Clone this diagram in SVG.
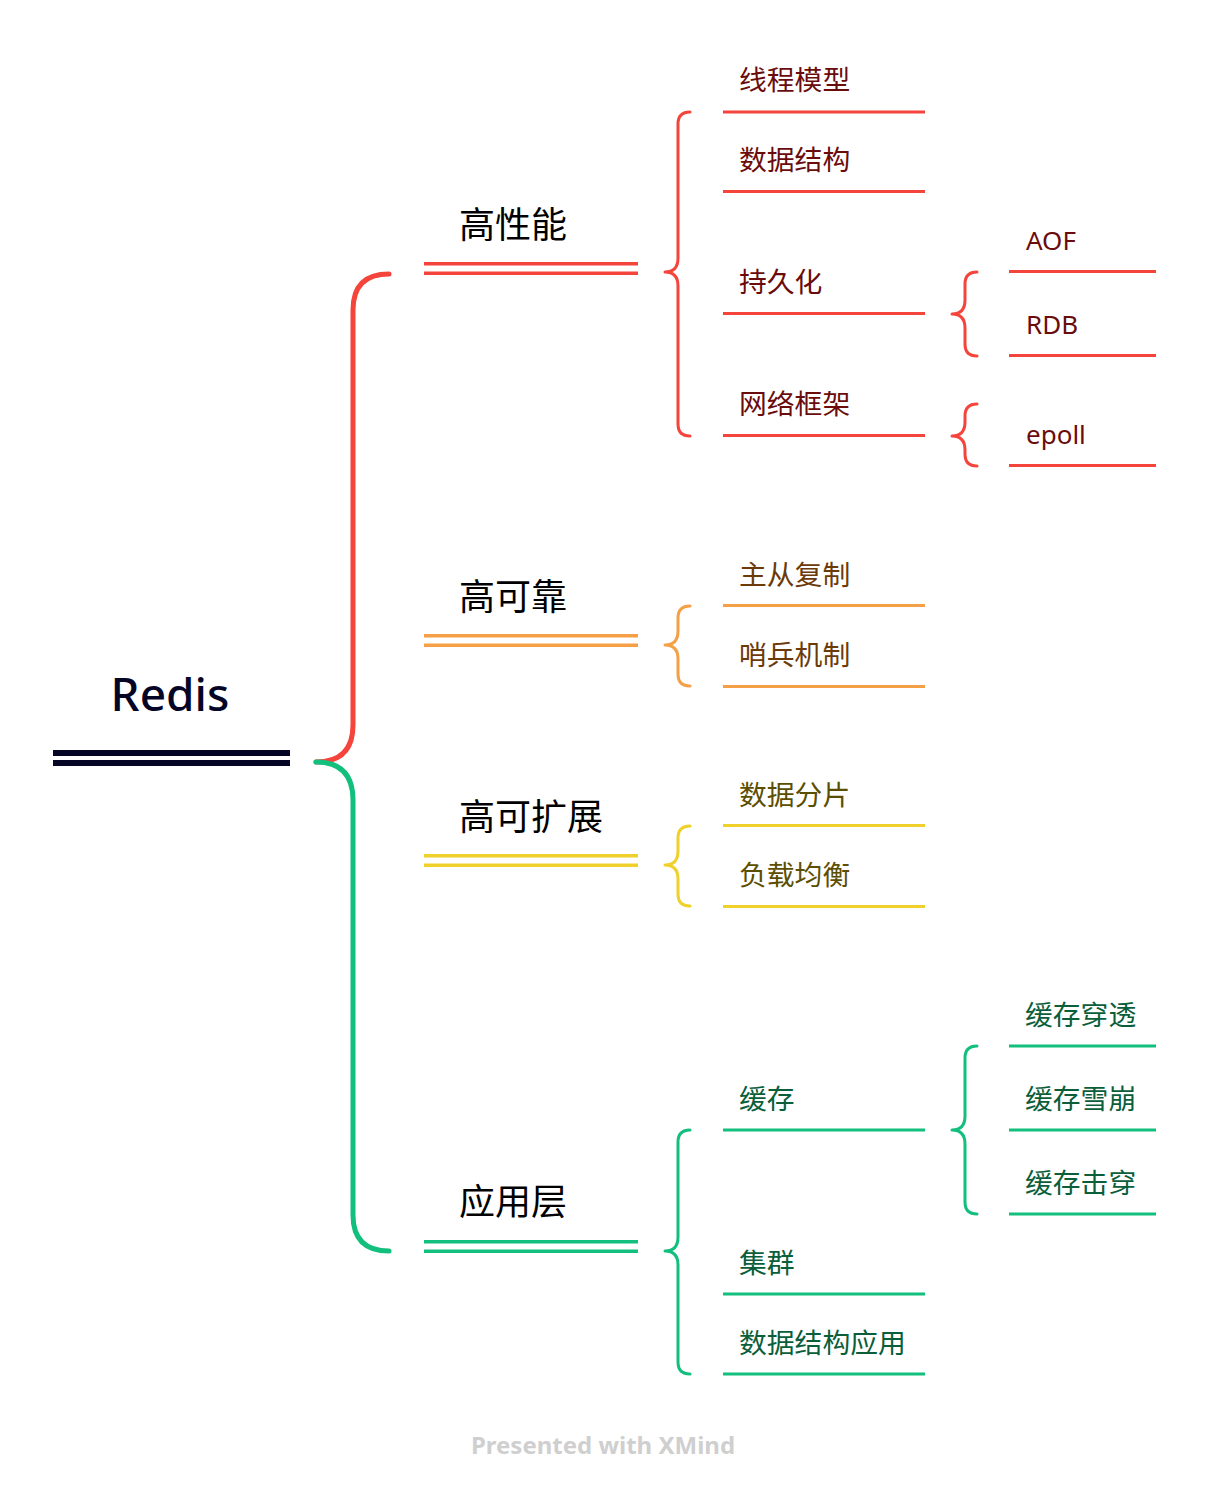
<svg xmlns="http://www.w3.org/2000/svg" width="1206" height="1496" viewBox="0 0 1206 1496">
<style>
.cjk{font-family:"Noto Sans CJK SC","Noto Sans",sans-serif}
.lat{font-family:"Noto Sans","Noto Sans CJK SC",sans-serif}
.main{font-size:36px;fill:#000}
.leaf{font-size:27.8px}
.br{fill:none;stroke-linecap:round;stroke-linejoin:round}
.red{stroke:#F5443C}
.ora{stroke:#F5A047}
.yel{stroke:#F0D02A}
.grn{stroke:#13BF7D}
.tr{fill:#6A0C0C}
.to{fill:#6B3A08}
.ty{fill:#5C4E00}
.tg{fill:#0A5E3A}
</style>
<rect width="1206" height="1496" fill="#fff"/>
<g id="connectors">
  <path class="br red" stroke-width="5" d="M316,762 Q353,762 353,725 L353,310 Q353,274 389,274"/>
  <path class="br grn" stroke-width="5" d="M316,762 Q353,762 353,800 L353,1215 Q353,1251 389,1251"/>
  <path class="br red" stroke-width="3" d="M690,112 Q678,112 678,124 L678,258 Q678,272 665,272 Q678,272 678,286 L678,424 Q678,436 690,436"/>
  <path class="br red" stroke-width="3" d="M977,272 Q965,272 965,284 L965,300 Q965,314 952,314 Q965,314 965,328 L965,344 Q965,356 977,356"/>
  <path class="br red" stroke-width="3" d="M977,404 Q965,404 965,416 L965,422 Q965,436 952,436 Q965,436 965,450 L965,454 Q965,466 977,466"/>
  <path class="br ora" stroke-width="3" d="M690,606 Q678,606 678,618 L678,631 Q678,645 665,645 Q678,645 678,659 L678,674 Q678,686 690,686"/>
  <path class="br yel" stroke-width="3" d="M690,826 Q678,826 678,838 L678,851 Q678,865 665,865 Q678,865 678,879 L678,894 Q678,906 690,906"/>
  <path class="br grn" stroke-width="3" d="M690,1130 Q678,1130 678,1142 L678,1237 Q678,1251 665,1251 Q678,1251 678,1265 L678,1362 Q678,1374 690,1374"/>
  <path class="br grn" stroke-width="3" d="M977,1046 Q965,1046 965,1058 L965,1116 Q965,1130 952,1130 Q965,1130 965,1144 L965,1202 Q965,1214 977,1214"/>
</g>
<g id="root">
  <text class="lat" x="170" y="711" font-size="46" font-weight="500" fill="#050526" text-anchor="middle">Redis</text>
  <rect x="53" y="750" width="237" height="6" fill="#050526"/>
  <rect x="53" y="760" width="237" height="6" fill="#050526"/>
</g>
<g id="gaoxingneng">
  <text class="cjk main" x="459" y="238">高性能</text>
  <rect x="424" y="262" width="214" height="3.5" fill="#F5443C"/>
  <rect x="424" y="271.5" width="214" height="3.5" fill="#F5443C"/>
</g>
<g id="xianchengmoxing">
  <text class="cjk leaf tr" x="739" y="90">线程模型</text>
  <rect x="723" y="110.5" width="202" height="3" fill="#F5443C"/>
</g>
<g id="shujujiegou">
  <text class="cjk leaf tr" x="739" y="170">数据结构</text>
  <rect x="723" y="190" width="202" height="3" fill="#F5443C"/>
</g>
<g id="chijiuhua">
  <text class="cjk leaf tr" x="739" y="292">持久化</text>
  <rect x="723" y="312" width="202" height="3" fill="#F5443C"/>
</g>
<g id="wangluokuangjia">
  <text class="cjk leaf tr" x="739" y="414">网络框架</text>
  <rect x="723" y="434" width="202" height="3" fill="#F5443C"/>
</g>
<g id="aof">
  <text class="lat tr" x="1026" y="250" font-size="26">AOF</text>
  <rect x="1009" y="270" width="147" height="3" fill="#F5443C"/>
</g>
<g id="rdb">
  <text class="lat tr" x="1026" y="334" font-size="26">RDB</text>
  <rect x="1009" y="354" width="147" height="3" fill="#F5443C"/>
</g>
<g id="epoll">
  <text class="lat tr" x="1026" y="444" font-size="26">epoll</text>
  <rect x="1009" y="464" width="147" height="3" fill="#F5443C"/>
</g>
<g id="gaokekao">
  <text class="cjk main" x="459" y="610">高可靠</text>
  <rect x="424" y="634" width="214" height="3.5" fill="#F5A047"/>
  <rect x="424" y="643.5" width="214" height="3.5" fill="#F5A047"/>
</g>
<g id="zhucongfuzhi">
  <text class="cjk leaf to" x="739" y="585">主从复制</text>
  <rect x="723" y="604" width="202" height="3" fill="#F5A047"/>
</g>
<g id="shaobingjizhi">
  <text class="cjk leaf to" x="739" y="665">哨兵机制</text>
  <rect x="723" y="685" width="202" height="3" fill="#F5A047"/>
</g>
<g id="gaokekuozhan">
  <text class="cjk main" x="459" y="830">高可扩展</text>
  <rect x="424" y="854" width="214" height="3.5" fill="#F0D02A"/>
  <rect x="424" y="863.5" width="214" height="3.5" fill="#F0D02A"/>
</g>
<g id="shujufenpian">
  <text class="cjk leaf ty" x="739" y="805">数据分片</text>
  <rect x="723" y="824" width="202" height="3" fill="#F0D02A"/>
</g>
<g id="fuzaijunheng">
  <text class="cjk leaf ty" x="739" y="885">负载均衡</text>
  <rect x="723" y="905" width="202" height="3" fill="#F0D02A"/>
</g>
<g id="yingyongceng">
  <text class="cjk main" x="459" y="1215">应用层</text>
  <rect x="424" y="1240" width="214" height="3.5" fill="#13BF7D"/>
  <rect x="424" y="1249.5" width="214" height="3.5" fill="#13BF7D"/>
</g>
<g id="huancun">
  <text class="cjk leaf tg" x="739" y="1109">缓存</text>
  <rect x="723" y="1128.5" width="202" height="3" fill="#13BF7D"/>
</g>
<g id="jiqun">
  <text class="cjk leaf tg" x="739" y="1273">集群</text>
  <rect x="723" y="1292.5" width="202" height="3" fill="#13BF7D"/>
</g>
<g id="shujujiegouyingyong">
  <text class="cjk leaf tg" x="739" y="1353">数据结构应用</text>
  <rect x="723" y="1372.5" width="202" height="3" fill="#13BF7D"/>
</g>
<g id="huancunchuantou">
  <text class="cjk leaf tg" x="1025" y="1025">缓存穿透</text>
  <rect x="1009" y="1044.5" width="147" height="3" fill="#13BF7D"/>
</g>
<g id="huancunxuebeng">
  <text class="cjk leaf tg" x="1025" y="1109">缓存雪崩</text>
  <rect x="1009" y="1128.5" width="147" height="3" fill="#13BF7D"/>
</g>
<g id="huancunjichuan">
  <text class="cjk leaf tg" x="1025" y="1193">缓存击穿</text>
  <rect x="1009" y="1212.5" width="147" height="3" fill="#13BF7D"/>
</g>
<g id="watermark">
  <text class="lat" x="603" y="1454" font-size="24" font-weight="700" fill="#CFCFCF" text-anchor="middle">Presented with XMind</text>
</g>
</svg>
